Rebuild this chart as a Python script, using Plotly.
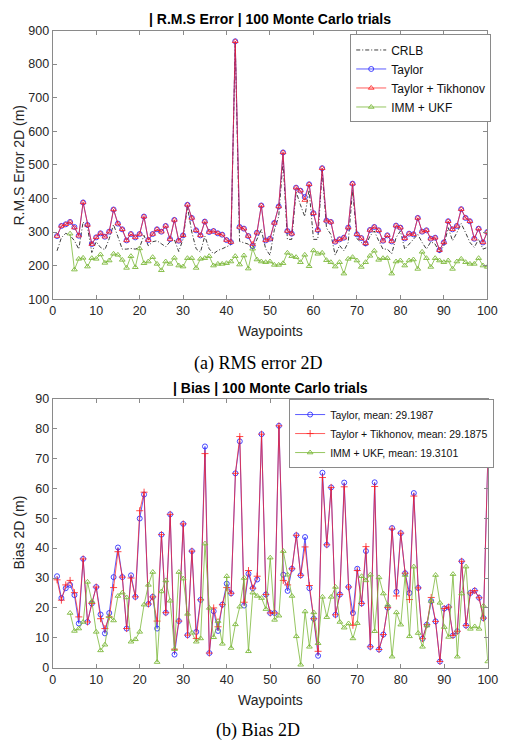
import plotly.graph_objects as go

W, H = 509, 751

waypoints = list(range(1, 101))
x_ticks = [0, 10, 20, 30, 40, 50, 60, 70, 80, 90, 100]

# ---- (a) RMS error 2D ----
rms_crlb = [244, 283, 296, 290, 274, 249, 330, 313, 239, 271,
            254, 247, 280, 322, 286, 249, 249, 251, 249, 254,
            290, 259, 271, 274, 265, 256, 271, 277, 242, 279,
            375, 300, 250, 240, 288, 250, 235, 245, 250, 255,
            262, 860, 272, 268, 264, 250, 278, 307, 250, 231,
            307, 346, 512, 278, 278, 420, 381, 346, 425, 278,
            278, 483, 312, 293, 231, 260, 244, 269, 425, 280,
            269, 259, 288, 303, 274, 249, 249, 235, 283, 303,
            249, 264, 280, 293, 269, 249, 271, 264, 239, 259,
            313, 274, 298, 325, 298, 269, 254, 279, 249, 254]
rms_taylor = [288, 318, 323, 330, 315, 289, 388, 321, 264, 284,
              296, 286, 301, 367, 325, 308, 275, 294, 284, 294,
              346, 276, 294, 308, 301, 318, 279, 336, 274, 290,
              381, 342, 305, 290, 331, 300, 303, 296, 292, 276,
              270, 868, 315, 310, 288, 258, 298, 379, 275, 280,
              327, 376, 537, 303, 295, 432, 423, 404, 442, 356,
              306, 490, 334, 330, 271, 278, 283, 313, 444, 293,
              282, 266, 306, 315, 305, 274, 290, 272, 319, 313,
              281, 295, 293, 342, 301, 305, 280, 283, 246, 269,
              332, 308, 318, 368, 342, 332, 280, 310, 269, 300]
rms_tikhonov = [288, 318, 323, 330, 313, 289, 388, 321, 264, 284,
                296, 286, 301, 367, 325, 308, 275, 294, 284, 294,
                346, 276, 294, 308, 301, 318, 279, 336, 274, 290,
                381, 342, 305, 290, 331, 300, 303, 296, 292, 276,
                270, 868, 315, 310, 288, 264, 298, 379, 275, 280,
                327, 376, 537, 303, 295, 432, 423, 395, 442, 356,
                306, 490, 334, 330, 271, 278, 283, 313, 444, 293,
                282, 266, 306, 315, 305, 274, 290, 272, 319, 313,
                281, 295, 293, 342, 301, 305, 280, 283, 246, 269,
                332, 308, 318, 368, 342, 332, 280, 310, 269, 300]
rms_imm = [None, None, None, 295, 188, 220, 223, 197, 222, 220,
           233, 208, 215, 235, 232, 217, 193, 228, 195, 251,
           207, 212, 225, 205, 186, 212, 205, 223, 200, 197,
           222, 222, 193, 220, 222, 228, 200, 205, 205, 207,
           212, 228, 203, 230, 191, 250, 218, 212, 210, 212,
           202, 202, 207, 238, 228, 225, 210, 232, 198, 245,
           235, 238, 216, 210, 197, 210, 176, 220, 225, 215,
           196, 210, 229, 244, 217, 222, 222, 176, 212, 215,
           200, 215, 218, 190, 241, 222, 196, 222, 215, 210,
           215, 190, 212, 220, 210, 205, 205, 222, 200, 196]
rms_y_ticks = [100, 200, 300, 400, 500, 600, 700, 800, 900]

# ---- (b) Bias 2D ----
bias_taylor = [30.6, 23.3, 26.6, 27.7, 24.3, 14.8, 36.4, 15.3, 21.5, 27.0,
               17.8, 11.5, 18.3, 30.3, 40.2, 30.3, 13.1, 30.9, 23.7, 49.9,
               57.9, 21.3, 23.7, 13.1, 44.5, 18.4, 51.3, 4.4, 15.6, 48.1,
               10.9, 39.0, 12.0, 22.7, 74.0, 4.9, 18.9, 12.3, 21.1, 28.1,
               24.9, 65.0, 75.7, 20.8, 31.4, 26.6, 29.5, 78.1, 24.5, 18.3,
               18.3, 80.9, 31.1, 25.7, 33.1, 44.3, 30.9, 43.7, 26.6, 16.4,
               4.0, 65.2, 41.1, 60.3, 17.7, 24.5, 61.9, 27.0, 18.3, 33.1,
               21.5, 39.0, 7.0, 62.0, 6.1, 11.1, 20.1, 46.7, 25.4, 45.0,
               31.6, 25.0, 58.4, 26.7, 9.7, 14.4, 22.3, 15.5, 2.1, 19.8,
               20.3, 10.8, 12.2, 35.6, 14.1, 25.0, 25.8, 23.4, 16.6, 69.5]
bias_tikhonov = [29.4, 22.6, 27.7, 29.2, 25.1, 17.0, 36.4, 15.3, 21.5, 27.0,
                 16.4, 13.1, 17.0, 26.8, 38.8, 30.3, 13.1, 30.0, 23.7, 52.5,
                 58.7, 21.3, 23.7, 15.6, 44.5, 18.4, 51.3, 6.2, 15.6, 48.1,
                 10.9, 39.0, 9.8, 22.7, 71.6, 4.9, 20.0, 13.7, 21.1, 26.8,
                 24.9, 65.0, 77.3, 21.9, 32.5, 26.6, 30.6, 78.1, 24.5, 18.3,
                 18.3, 80.9, 29.2, 27.7, 33.1, 44.3, 30.9, 40.4, 27.5, 16.4,
                 5.5, 63.6, 41.1, 60.3, 17.7, 24.5, 60.5, 27.0, 14.2, 32.5,
                 21.5, 40.5, 7.0, 60.6, 6.1, 11.1, 20.1, 46.4, 24.0, 45.0,
                 31.6, 22.8, 57.4, 26.7, 9.7, 14.4, 23.5, 15.5, 2.1, 19.8,
                 20.3, 10.8, 12.2, 35.6, 14.1, 25.0, 25.8, 23.4, 16.6, 69.5]
bias_imm = [None, None, None, 18.3, 12.3, 13.1, 15.3, 28.7, 22.2, 12.0,
            5.8, 7.7, 17.2, 15.8, 24.0, 25.1, 23.5, 8.7, 9.5, 12.0,
            21.1, 27.7, 32.0, 1.9, 25.5, 29.2, 22.4, 6.2, 32.0, 29.8,
            18.0, 11.7, 8.7, 9.8, 41.5, 20.0, 10.2, 15.6, 8.0, 30.6,
            6.6, 14.5, 20.4, 30.0, 5.5, 25.1, 24.0, 23.3, 19.6, 36.8,
            16.0, 17.4, 39.0, 31.1, 24.0, 10.5, 1.0, 18.8, 7.0, 18.5,
            8.2, 23.7, 16.9, 23.7, 27.0, 15.3, 13.4, 14.8, 9.8, 14.9,
            30.6, 29.2, 31.1, 12.2, 30.2, 24.8, 21.0, 3.7, 18.5, 14.4,
            31.0, 10.5, 33.8, 11.6, 7.0, 14.1, 22.3, 31.0, 21.7, 13.6,
            10.3, 31.3, 3.7, 24.8, 33.8, 13.0, 13.8, 13.0, 20.7, 2.1]
bias_y_ticks = [0, 10, 20, 30, 40, 50, 60, 70, 80, 90]
bias_means = {"Taylor": "29.1987", "Taylor + Tikhonov": "29.1875", "IMM + UKF": "19.3101"}

SANS = "Arial, Liberation Sans, Helvetica, sans-serif"
SERIF = "Times New Roman, Liberation Serif, serif"
BLUE = "rgba(40,40,255,0.85)"
RED = "rgba(255,30,30,0.8)"
GREEN = "rgba(125,185,60,0.9)"
BLACK = "rgba(40,40,40,0.9)"
AX = "#8a8a8a"
TXT = "#262626"


def px(x):
    return x / W


def py(y):
    return 1 - y / H


fig = go.Figure()

# top plot traces
fig.add_trace(go.Scatter(x=waypoints, y=rms_crlb, mode="lines", name="CRLB",
                         line=dict(color=BLACK, width=1, dash="4px,2px,1px,2px"),
                         xaxis="x", yaxis="y", legend="legend"))
fig.add_trace(go.Scatter(x=waypoints, y=rms_taylor, mode="lines+markers", name="Taylor",
                         line=dict(color=BLUE, width=0.9),
                         marker=dict(symbol="circle-open", size=5, color=BLUE, line=dict(width=1)),
                         xaxis="x", yaxis="y", legend="legend"))
fig.add_trace(go.Scatter(x=waypoints, y=rms_tikhonov, mode="lines+markers", name="Taylor + Tikhonov",
                         line=dict(color=RED, width=0.9),
                         marker=dict(symbol="triangle-up-open", size=5, color=RED, line=dict(width=1)),
                         xaxis="x", yaxis="y", legend="legend"))
fig.add_trace(go.Scatter(x=waypoints, y=rms_imm, mode="lines+markers", name="IMM + UKF",
                         line=dict(color=GREEN, width=0.9),
                         marker=dict(symbol="triangle-up-open", size=5, color=GREEN, line=dict(width=1)),
                         xaxis="x", yaxis="y", legend="legend"))

# bottom plot traces
fig.add_trace(go.Scatter(x=waypoints, y=bias_taylor, mode="lines+markers",
                         name="Taylor, mean: " + bias_means["Taylor"],
                         line=dict(color=BLUE, width=0.9),
                         marker=dict(symbol="circle-open", size=5, color=BLUE, line=dict(width=1)),
                         xaxis="x2", yaxis="y2", legend="legend2"))
fig.add_trace(go.Scatter(x=waypoints, y=bias_tikhonov, mode="lines+markers",
                         name="Taylor + Tikhonov, mean: " + bias_means["Taylor + Tikhonov"],
                         line=dict(color=RED, width=0.9),
                         marker=dict(symbol="cross-thin-open", size=5, color=RED, line=dict(width=1, color=RED)),
                         xaxis="x2", yaxis="y2", legend="legend2"))
fig.add_trace(go.Scatter(x=waypoints, y=bias_imm, mode="lines+markers",
                         name="IMM + UKF, mean: " + bias_means["IMM + UKF"],
                         line=dict(color=GREEN, width=0.9),
                         marker=dict(symbol="triangle-up-open", size=5, color=GREEN, line=dict(width=1)),
                         xaxis="x2", yaxis="y2", legend="legend2"))

axis_common = dict(showline=True, linecolor=AX, linewidth=1, mirror="ticks",
                   ticks="inside", ticklen=4, tickcolor=AX, showgrid=False, zeroline=False,
                   tickfont=dict(family=SANS, size=12.5, color=TXT))

legend_common = dict(bgcolor="white", bordercolor=AX, borderwidth=1,
                     xanchor="right", yanchor="top", itemwidth=30, tracegroupgap=0)

fig.update_layout(
    width=W, height=H, margin=dict(l=0, r=0, t=0, b=0),
    paper_bgcolor="white", plot_bgcolor="white",
    xaxis=dict(domain=[px(51), px(497)], range=[0, 100], tickvals=x_ticks, anchor="y", **axis_common),
    yaxis=dict(domain=[py(297.7), py(24)], range=[100, 900], tickvals=rms_y_ticks, anchor="x", **axis_common),
    xaxis2=dict(domain=[px(51), px(497.5)], range=[0, 100], tickvals=x_ticks, anchor="y2", **axis_common),
    yaxis2=dict(domain=[py(673.3), py(399)], range=[0, 90], tickvals=bias_y_ticks, anchor="x2", **axis_common),
    legend=dict(x=px(501), y=py(28), font=dict(family=SANS, size=12, color="#111"), **legend_common),
    legend2=dict(x=px(504), y=py(399.5), font=dict(family=SANS, size=10.5, color="#111"), **legend_common),
    showlegend=True,
)

annotations = [
    ("<b>| R.M.S Error | 100 Monte Carlo trials</b>", 274, 12.5, 14, SANS, 0, "#000"),
    ("Waypoints", 274, 330, 14, SANS, 0, TXT),
    ("R.M.S Error 2D (m)", 16, 161, 14, SANS, -90, TXT),
    ("(a) RMS error 2D", 262, 363, 18, SERIF, 0, "#000"),
    ("<b>| Bias | 100 Monte Carlo trials</b>", 274, 388, 14, SANS, 0, "#000"),
    ("Waypoints", 274, 706, 14, SANS, 0, TXT),
    ("Bias 2D (m)", 16, 536, 14, SANS, -90, TXT),
    ("(b) Bias 2D", 262, 737, 18, SERIF, 0, "#000"),
]
for text, x, y, size, fam, ang, col in annotations:
    fig.add_annotation(text=text, x=px(x), y=py(y), xref="paper", yref="paper",
                       showarrow=False, xanchor="center", yanchor="middle", textangle=ang,
                       font=dict(family=fam, size=size, color=col))

fig.write_html("out.html", config={"displayModeBar": False},
               post_script="document.body.style.margin='0px';document.body.style.overflow='hidden';")
